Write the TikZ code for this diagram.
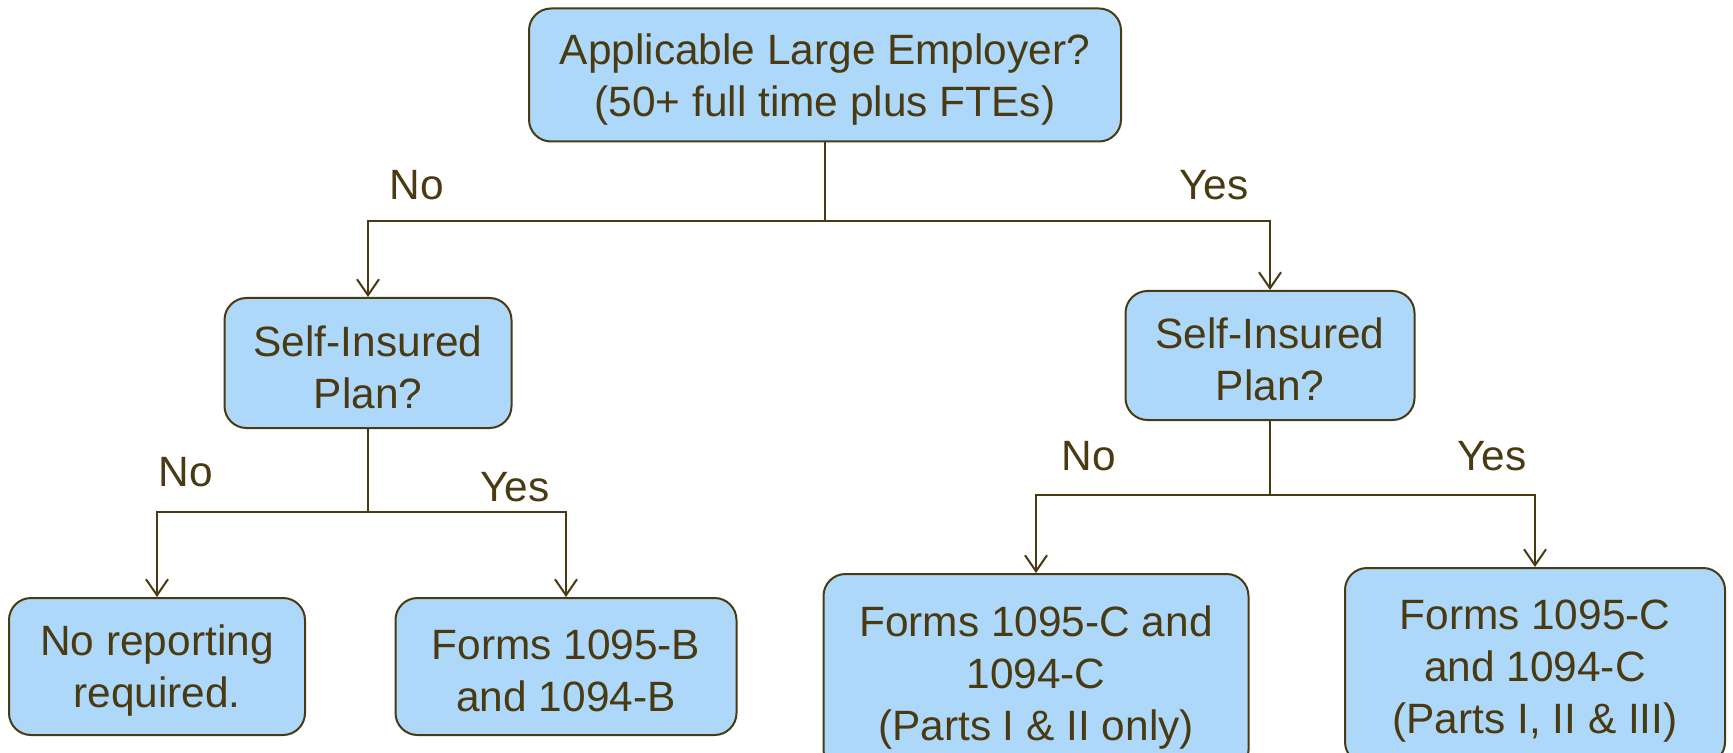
\documentclass[tikz,border=0pt]{standalone}
\usepackage{fontspec}
\setmainfont{Liberation Sans}
\usepackage{xcolor}
\usepackage{tikz}
\usetikzlibrary{arrows.meta, positioning}

\definecolor{boxblue}{RGB}{173,216,250}
\definecolor{darkbrown}{RGB}{74,58,18}
\newcommand{\topstrut}{\rule{0pt}{0.92em}}

\begin{document}
\begin{tikzpicture}[
  x=0.5pt, y=-0.5pt,
  box/.style={rectangle, draw=darkbrown, fill=boxblue, line width=1pt, text=darkbrown, align=center, rounded corners=11pt, inner sep=0pt, font=\fontsize{21.2}{26}\selectfont},
  lbl/.style={text=darkbrown, inner sep=0pt, font=\fontsize{21.2}{26}\selectfont},
  arrow/.style={line width=1pt, draw=darkbrown, -{Straight Barb[length=8pt, width=11pt]}},
  line/.style={line width=1pt, draw=darkbrown}
]
\useasboundingbox (0,0) rectangle (1733,753);

% Decision boxes
\node (ale) [box, minimum width=296pt, minimum height=66.5pt] at (825,75) {\topstrut Applicable Large Employer?\\(50+ full time plus FTEs)};
\node (selfno) [box, minimum width=143.5pt, minimum height=65pt] at (368,363) {\topstrut Self-Insured\\Plan?};
\node (selfyes) [box, minimum width=144.5pt, minimum height=64.5pt] at (1270,355.5) {\topstrut Self-Insured\\Plan?};

% Outcomes
\node (noreport) [box, minimum width=148pt, minimum height=68.5pt] at (157,666.5) {\topstrut No reporting\\required.};
\node (formsb) [box, minimum width=170.5pt, minimum height=68.5pt] at (566,666.5) {\topstrut Forms 1095-B\\and 1094-B};
\node (formsc) [box, minimum width=212.5pt, minimum height=99pt] at (1036,673) {\topstrut Forms 1095-C and\\1094-C\\(Parts I \& II only)};
\node (formscfull) [box, minimum width=190pt, minimum height=98pt] at (1535,666) {\topstrut Forms 1095-C\\and 1094-C\\(Parts I, II \& III)};

% Junctions
\coordinate (j1) at (825,221);
\coordinate (j2) at (368,512);
\coordinate (j3) at (1270,495);

% Arrows
\draw [line] (ale.south) -- (j1);
\draw [arrow] (j1) -| (selfno.north);
\draw [arrow] (j1) -| (selfyes.north);
\draw [line] (selfno.south) -- (j2);
\draw [arrow] (j2) -| (noreport.north);
\draw [arrow] (j2) -| (formsb.north);
\draw [line] (selfyes.south) -- (j3);
\draw [arrow] (j3) -| (formsc.north);
\draw [arrow] (j3) -| (formscfull.north);

% Labels
\node (l1) [lbl] at (417,185) {No};
\node (l2) [lbl] at (1214,185) {Yes};
\node (l3) [lbl] at (186,472) {No};
\node (l4) [lbl] at (515,487) {Yes};
\node (l5) [lbl] at (1089,456) {No};
\node (l6) [lbl] at (1492,456) {Yes};
\end{tikzpicture}
\end{document}
